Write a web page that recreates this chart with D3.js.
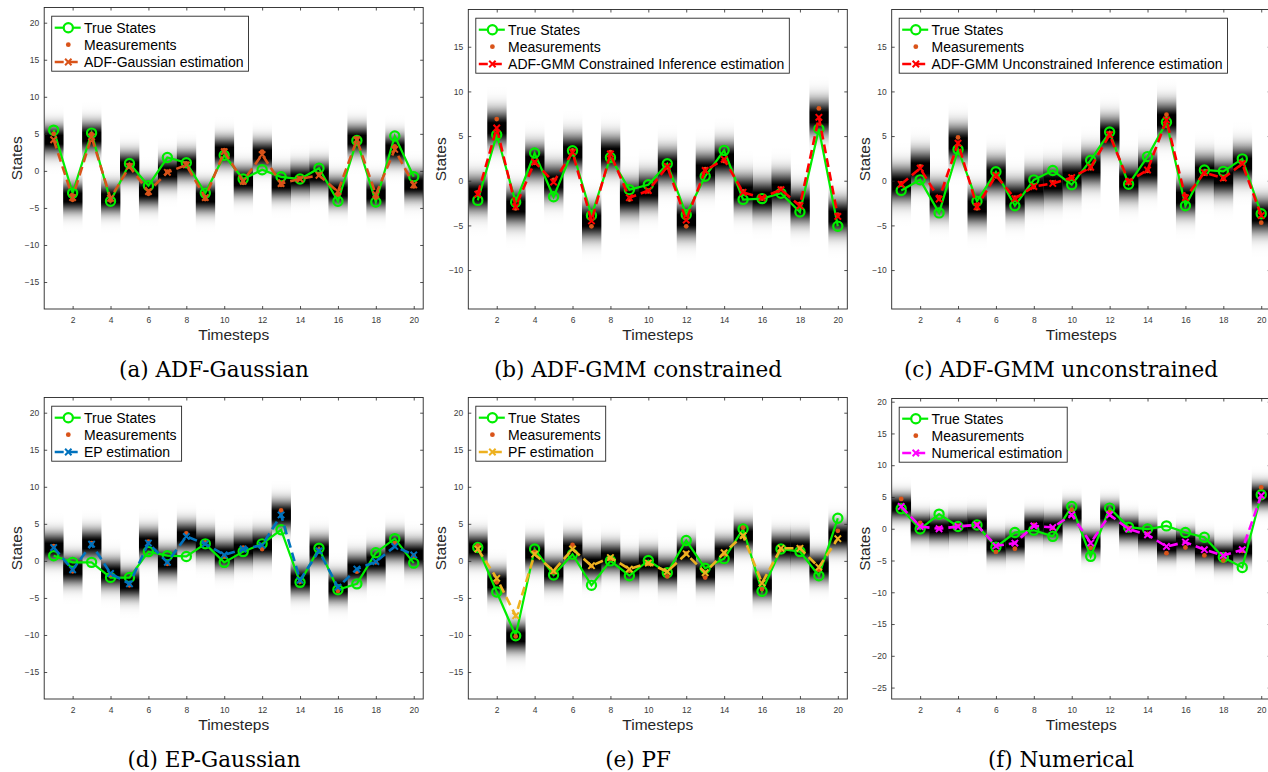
<!DOCTYPE html>
<html>
<head>
<meta charset="utf-8">
<script src="https://cdn.jsdelivr.net/npm/d3@7"></script>
<style>
  body { margin: 0; background: #fff; }
  svg { display: block; font-family: "Liberation Sans", Arial, sans-serif; }
</style>
</head>
<body>
<svg id="fig" width="1268" height="772"></svg>
<script>
// timesteps + ticks
const steps = d3.range(1, 21);
const xTicks = d3.range(2, 21, 2);

// (a) ADF-Gaussian
const trueA = [5.5, -3.0, 5.1, -4.1, 1.0, -2.0, 1.8, 1.1, -3.0, 2.1, -1.1, 0.15, -0.8, -1.1, 0.35, -4.1, 4.1, -4.2, 4.7, -0.8];
const measA = [5.0, -3.9, 5.0, -4.0, 0.8, -3.1, -0.1, 1.0, -3.8, 2.8, -1.6, 2.6, -1.9, -1.0, -0.5, -3.2, 4.4, -3.6, 3.3, -2.1];
const estA  = [4.2, -3.6, 4.6, -3.7, 0.6, -2.8, -0.2, 0.8, -3.6, 2.6, -1.4, 2.2, -1.7, -1.1, -0.6, -2.8, 4.2, -3.2, 2.9, -1.9];

// (b) ADF-GMM constrained
const trueB = [-2.2, 5.15, -2.4, 3.1, -1.8, 3.35, -3.9, 2.6, -1.0, -0.45, 1.9, -3.8, 0.5, 3.4, -2.1, -2.0, -1.4, -3.5, 5.8, -5.1];
const measB = [-1.3, 6.9, -3.1, 2.0, 0.1, 3.4, -5.1, 3.2, -2.1, -1.2, 1.5, -5.1, 1.3, 2.2, -1.2, -2.0, -0.9, -2.6, 8.1, -3.8];
const estB  = [-1.5, 5.9, -2.9, 2.1, -0.15, 3.2, -4.5, 3.0, -1.9, -1.1, 1.6, -4.4, 1.15, 2.4, -1.3, -1.9, -1.0, -2.8, 7.1, -4.0];

// (c) ADF-GMM unconstrained
const trueC = [-1.1, 0.1, -3.6, 3.5, -2.3, 1.0, -2.8, 0.1, 1.15, -0.45, 2.3, 5.45, -0.4, 2.7, 6.55, -2.8, 1.2, 1.05, 2.45, -3.7];
const measC = [-0.3, 1.6, -1.9, 4.85, -3.1, 0.5, -1.9, -0.7, -0.2, 0.4, 1.4, 5.3, -0.2, 1.1, 7.4, -1.7, 0.8, 0.2, 2.0, -4.7];
const estC  = [-0.4, 1.4, -2.05, 4.2, -2.9, 0.6, -2.0, -0.65, -0.3, 0.35, 1.5, 5.15, -0.1, 1.2, 6.8, -1.9, 0.9, 0.3, 1.9, -3.9];

// (d) EP-Gaussian
const trueD = [0.7, -0.2, -0.2, -2.25, -2.25, 1.25, 0.7, 0.6, 2.3, -0.2, 1.25, 2.3, 4.2, -2.9, 1.7, -3.9, -3.1, 1.1, 3.0, -0.3];
const measD = [2.0, -1.4, 2.4, -1.9, -3.3, 2.6, -0.4, 3.7, 2.5, 0.6, 1.8, 1.6, 6.8, -2.8, 1.5, -4.05, -1.45, -0.2, 2.4, 0.7];
const estD  = [1.8, -1.2, 2.25, -1.7, -3.1, 2.4, -0.2, 3.3, 2.3, 0.8, 1.6, 2.1, 6.2, -2.6, 1.35, -3.55, -1.1, -0.1, 1.95, 0.8];

// (e) PF
const trueE = [1.8, -4.2, -10.1, 1.6, -1.9, 0.9, -3.3, 0.0, -2.0, 0.05, -1.6, 2.75, -1.0, 0.3, 4.3, -4.1, 1.6, 1.25, -2.0, 5.75];
const measE = [2.05, -2.9, -10.2, 1.2, -1.5, 2.15, -0.7, 0.3, -1.3, -0.4, -2.1, 1.0, -2.25, 0.9, 4.5, -3.8, 1.5, 1.8, -1.2, 4.05];
const estE  = [1.6, -2.35, -7.4, 0.9, -1.35, 1.6, -0.65, 0.45, -1.1, -0.3, -1.45, 0.95, -1.6, 1.1, 3.4, -3.0, 1.7, 1.7, -0.85, 3.0];
const bandE = [1.7, -3.0, -10.3, 1.0, -1.5, 1.5, -0.4, 0.45, -1.1, -0.3, -1.45, 0.95, -1.6, 1.1, 3.4, -3.2, 1.7, 1.7, -0.85, 3.3];

// (f) Numerical
const trueF = [3.15, -0.05, 2.3, 0.35, 0.6, -2.9, -0.6, -0.25, -1.2, 3.5, -4.35, 3.25, 0.25, -0.05, 0.45, -0.6, -1.35, -4.5, -6.1, 5.35];
const measF = [4.7, 0.9, 0.1, 0.5, 0.7, -3.65, -3.15, 0.6, 0.1, 3.0, -3.0, 2.6, 0.1, -0.8, -3.85, -2.95, -4.2, -5.0, -3.5, 6.5];
const estF  = [3.5, 0.35, 0.0, 0.35, 0.6, -2.7, -2.25, 0.45, 0.2, 2.2, -2.25, 2.2, -0.05, -0.95, -2.8, -2.1, -3.3, -4.2, -3.3, 5.25];

const SIGMA = 1.3; // spread of the density strips (state units)

const panels = [
  { key: "a", caption: "(a) ADF-Gaussian", name: "ADF-Gaussian estimation", color: "#D95319",
    truth: trueA, meas: measA, est: estA, band: estA,
    yDomain: [-18.64, 22.05], yTicks: d3.range(-15, 21, 5), box: [44.2, 7.5, 423.2, 309], cap: [214, 377] },
  { key: "b", caption: "(b) ADF-GMM constrained", name: "ADF-GMM Constrained Inference estimation", color: "#FF0000",
    truth: trueB, meas: measB, est: estB, band: estB,
    yDomain: [-14.36, 19.17], yTicks: d3.range(-10, 16, 5), box: [468.3, 9.5, 847.3, 309], cap: [638, 377] },
  { key: "c", caption: "(c) ADF-GMM unconstrained", name: "ADF-GMM Unconstrained Inference estimation", color: "#FF0000",
    truth: trueC, meas: measC, est: estC, band: estC,
    yDomain: [-14.36, 19.17], yTicks: d3.range(-10, 16, 5), box: [891.7, 9.5, 1270.7, 309], cap: [1061, 377] },
  { key: "d", caption: "(d) EP-Gaussian", name: "EP estimation", color: "#0072BD",
    truth: trueD, meas: measD, est: estD, band: estD,
    yDomain: [-18.64, 22.05], yTicks: d3.range(-15, 21, 5), box: [44.2, 397.5, 423.2, 699], cap: [214, 767] },
  { key: "e", caption: "(e) PF", name: "PF estimation", color: "#EDB120",
    truth: trueE, meas: measE, est: estE, band: bandE,
    yDomain: [-18.64, 22.05], yTicks: d3.range(-15, 21, 5), box: [468.3, 397.5, 847.3, 699], cap: [638, 767] },
  { key: "f", caption: "(f) Numerical", name: "Numerical estimation", color: "#FF00FF",
    truth: trueF, meas: measF, est: estF, band: estF,
    yDomain: [-26.8, 20.5], yTicks: d3.range(-25, 21, 5), box: [891.7, 398.5, 1270.7, 699], cap: [1061, 767] }
];

const GREEN = "#00EE00";
const MEAS = "#D95319";
const AXIS = "#262626";

const svg = d3.select("#fig");
const defs = svg.append("defs");

// one vertical gradient for all strips: black core fading to white
const grad = defs.append("linearGradient")
  .attr("id", "strip").attr("x1", 0).attr("y1", 0).attr("x2", 0).attr("y2", 1);
d3.range(0, 41).forEach(i => {
  const z = (i / 40) * 9 - 4.5; // in sigmas
  const op = Math.min(1, 1.1 * Math.exp(-0.5 * z * z));
  grad.append("stop").attr("offset", i / 40).attr("stop-color", "#000").attr("stop-opacity", op);
});

function xMark(g, cx, cy, s, color) {
  g.append("path")
    .attr("d", `M${cx - s},${cy - s}L${cx + s},${cy + s}M${cx - s},${cy + s}L${cx + s},${cy - s}`)
    .attr("stroke", color).attr("stroke-width", 2).attr("fill", "none");
}

panels.forEach(p => {
  const [x0, y0, x1, y1] = p.box;
  const x = d3.scaleLinear().domain([0.5, 20.5]).range([x0, x1]);
  const y = d3.scaleLinear().domain(p.yDomain).range([y1, y0]);
  const g = svg.append("g");

  defs.append("clipPath").attr("id", "clip-" + p.key)
    .append("rect").attr("x", x0).attr("y", y0).attr("width", x1 - x0).attr("height", y1 - y0);

  // density strips
  g.append("g").attr("clip-path", `url(#clip-${p.key})`)
    .selectAll("rect").data(steps).join("rect")
    .attr("x", t => x(t - 0.5))
    .attr("width", t => x(t + 0.5) - x(t - 0.5) + 0.4)
    .attr("y", (t, i) => y(p.band[i] + 4.5 * SIGMA))
    .attr("height", (t, i) => y(p.band[i] - 4.5 * SIGMA) - y(p.band[i] + 4.5 * SIGMA))
    .attr("fill", "url(#strip)");

  // axes
  const yAxis = d3.axisLeft(y).tickValues(p.yTicks).tickSize(-3).tickSizeOuter(0).tickPadding(5);
  const xAxis = d3.axisBottom(x).tickValues(xTicks).tickSize(-3).tickSizeOuter(0).tickPadding(6);
  const ga = g.append("g").attr("transform", `translate(${x0},0)`).call(yAxis);
  const gb = g.append("g").attr("transform", `translate(0,${y1})`).call(xAxis);
  const gt = g.append("g").attr("transform", `translate(0,${y0})`)
    .call(d3.axisTop(x).tickValues(xTicks).tickSize(-3).tickSizeOuter(0).tickFormat(""));
  const gr = g.append("g").attr("transform", `translate(${x1},0)`)
    .call(d3.axisRight(y).tickValues(p.yTicks).tickSize(-3).tickSizeOuter(0).tickFormat(""));
  [ga, gb, gt, gr].forEach(a => {
    a.select(".domain").remove();
    a.selectAll("line").attr("stroke", AXIS).attr("stroke-width", 0.8);
    a.selectAll("text").attr("fill", "#3a3a3a").style("font-size", "8.5px")
      .style("font-family", "'Liberation Sans', Arial, sans-serif");
  });
  gb.selectAll("text").attr("dy", "0.95em");
  g.append("rect").attr("x", x0).attr("y", y0).attr("width", x1 - x0).attr("height", y1 - y0)
    .attr("fill", "none").attr("stroke", AXIS).attr("stroke-width", 0.9);

  // labels
  g.append("text").attr("x", (x0 + x1) / 2).attr("y", y1 + 31)
    .attr("text-anchor", "middle").attr("fill", AXIS).style("font-size", "15.5px").text("Timesteps");
  g.append("text").attr("transform", `translate(${x0 - 22},${(y0 + y1) / 2}) rotate(-90)`)
    .attr("text-anchor", "middle").attr("fill", AXIS).style("font-size", "15.5px").text("States");

  // true states
  const line = d3.line().x((d, i) => x(steps[i])).y(d => y(d));
  g.append("path").datum(p.truth).attr("d", line)
    .attr("fill", "none").attr("stroke", GREEN).attr("stroke-width", 2.2);
  g.selectAll("circle.truth").data(p.truth).join("circle").attr("class", "truth")
    .attr("cx", (d, i) => x(steps[i])).attr("cy", d => y(d)).attr("r", 4.6)
    .attr("fill", "none").attr("stroke", GREEN).attr("stroke-width", 2.2);

  // measurements
  g.selectAll("circle.meas").data(p.meas).join("circle").attr("class", "meas")
    .attr("cx", (d, i) => x(steps[i])).attr("cy", d => y(d)).attr("r", 2.4)
    .attr("fill", MEAS);

  // estimation
  g.append("path").datum(p.est).attr("d", line)
    .attr("fill", "none").attr("stroke", p.color).attr("stroke-width", 2.6)
    .attr("stroke-dasharray", "9,5");
  p.est.forEach((d, i) => xMark(g, x(steps[i]), y(d), 3.2, p.color));

  // legend
  const lx = x0 + 7.5, ly = y0 + 8.7;
  const lg = g.append("g");
  const box = lg.append("rect").attr("x", lx).attr("y", ly).attr("height", 55)
    .attr("fill", "#fff").attr("stroke", AXIS).attr("stroke-width", 0.9);
  const rows = [ly + 11.5, ly + 28.5, ly + 45.8];
  const names = ["True States", "Measurements", p.name];
  let maxW = 0;
  names.forEach((n, i) => {
    const t = lg.append("text").attr("x", lx + 32.3).attr("y", rows[i]).attr("dy", "0.35em")
      .attr("fill", "#000").style("font-size", "14px").text(n);
    maxW = Math.max(maxW, t.node().getComputedTextLength());
  });
  box.attr("width", 32.3 + maxW + 5);
  const mx = lx + 16.6;
  lg.append("line").attr("x1", lx + 3).attr("x2", lx + 29).attr("y1", rows[0]).attr("y2", rows[0])
    .attr("stroke", GREEN).attr("stroke-width", 2.2);
  lg.append("circle").attr("cx", mx).attr("cy", rows[0]).attr("r", 4.6)
    .attr("fill", "#fff").attr("stroke", GREEN).attr("stroke-width", 2.2);
  lg.append("circle").attr("cx", mx).attr("cy", rows[1]).attr("r", 2.4).attr("fill", MEAS);
  lg.append("line").attr("x1", lx + 3).attr("x2", lx + 29).attr("y1", rows[2]).attr("y2", rows[2])
    .attr("stroke", p.color).attr("stroke-width", 2.6).attr("stroke-dasharray", "9,5");
  xMark(lg, mx, rows[2], 3.2, p.color);

  // caption
  svg.append("text").attr("x", p.cap[0]).attr("y", p.cap[1]).attr("text-anchor", "middle")
    .style("font-family", "'DejaVu Serif', serif").style("font-size", "21.5px").attr("fill", "#000")
    .text(p.caption);
});
</script>
</body>
</html>
